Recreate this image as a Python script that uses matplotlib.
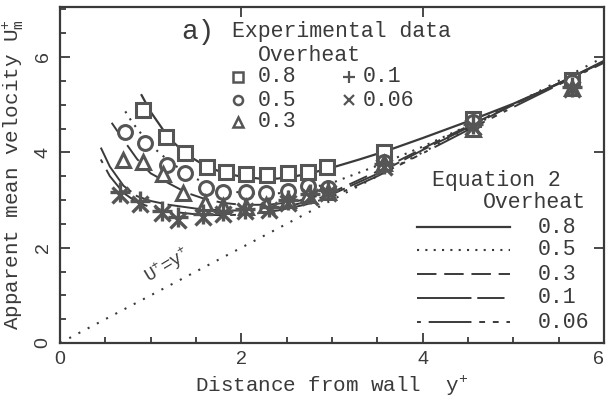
import matplotlib.pyplot as plt
import numpy as np

sq_x = [0.92, 1.17, 1.38, 1.62, 1.83, 2.05, 2.28, 2.52, 2.73, 2.95, 3.57, 4.56, 5.65]
sq_y = [4.88, 4.32, 3.98, 3.69, 3.58, 3.54, 3.52, 3.56, 3.58, 3.69, 4.00, 4.70, 5.52]

ci_x = [0.72, 0.94, 1.18, 1.38, 1.61, 1.80, 2.05, 2.27, 2.52, 2.73, 2.96, 3.57, 4.56, 5.65]
ci_y = [4.42, 4.19, 3.73, 3.56, 3.25, 3.17, 3.17, 3.14, 3.19, 3.30, 3.25, 3.80, 4.63, 5.47]

tr_x = [0.70, 0.91, 1.14, 1.36, 1.60, 1.80, 2.05, 2.27, 2.52, 2.73, 2.96, 3.57, 4.56, 5.65]
tr_y = [3.84, 3.79, 3.54, 3.14, 2.93, 2.87, 2.85, 2.89, 3.00, 3.10, 3.17, 3.77, 4.50, 5.35]

pl_x = [0.66, 0.88, 1.13, 1.30, 1.58, 1.80, 2.04, 2.30, 2.51, 2.76, 2.96, 3.57, 4.56, 5.65]
pl_y = [3.17, 2.97, 2.78, 2.65, 2.71, 2.76, 2.82, 2.86, 2.99, 3.13, 3.20, 3.76, 4.60, 5.38]

cr_x = [0.66, 0.88, 1.13, 1.30, 1.58, 1.80, 2.04, 2.30, 2.51, 2.76, 2.96, 3.57, 4.56, 5.65]
cr_y = [3.11, 2.91, 2.72, 2.59, 2.65, 2.70, 2.76, 2.80, 2.93, 3.07, 3.14, 3.70, 4.54, 5.32]

# equation 2 curves (traced)
c08_x = [0.90, 1.00, 1.20, 1.40, 1.60, 1.80, 2.00, 2.20, 2.40, 2.60, 2.80, 3.00, 3.30, 3.60, 4.00, 4.50, 5.00, 5.50, 6.00]
c08_y = [5.20, 4.85, 4.30, 3.95, 3.72, 3.57, 3.49, 3.45, 3.45, 3.50, 3.58, 3.68, 3.85, 4.03, 4.30, 4.65, 5.02, 5.44, 5.92]

c05_x = [0.72, 0.80, 0.90, 1.00, 1.20, 1.40, 1.60, 1.80, 2.00, 2.30, 2.60, 3.00, 3.50, 4.00, 4.50, 5.00, 5.50, 6.00]
c05_y = [4.86, 4.62, 4.38, 4.15, 3.82, 3.55, 3.35, 3.22, 3.15, 3.12, 3.18, 3.36, 3.72, 4.12, 4.56, 5.01, 5.45, 5.90]

c03_x = [0.57, 0.70, 0.85, 1.00, 1.20, 1.40, 1.60, 1.80, 2.00, 2.30, 2.60, 3.00, 3.50, 4.00, 4.50, 5.00, 5.50, 6.00]
c03_y = [4.62, 4.26, 3.86, 3.56, 3.35, 3.15, 3.02, 2.94, 2.90, 2.90, 2.97, 3.16, 3.60, 4.08, 4.55, 5.00, 5.45, 5.90]

c01_x = [0.45, 0.55, 0.70, 0.85, 1.00, 1.20, 1.50, 1.80, 2.10, 2.40, 2.70, 3.00, 3.50, 4.00, 4.50, 5.00, 5.50, 6.00]
c01_y = [4.10, 3.70, 3.30, 3.08, 2.98, 2.90, 2.82, 2.78, 2.78, 2.83, 2.95, 3.12, 3.55, 4.05, 4.52, 5.00, 5.45, 5.90]

c006_x = [0.45, 0.55, 0.70, 0.85, 1.00, 1.20, 1.50, 1.80, 2.10, 2.40, 2.70, 3.00, 3.50, 4.00, 4.50, 5.00, 5.50, 6.00]
c006_y = [3.85, 3.50, 3.15, 2.95, 2.85, 2.76, 2.70, 2.68, 2.70, 2.78, 2.90, 3.07, 3.50, 3.98, 4.47, 4.95, 5.42, 5.88]

ref_x = [0, 6]
ref_y = [0, 6]

ink = '#3a3a3a'
mark = '#555555'
mono = ['Liberation Mono', 'DejaVu Sans Mono']
plt.rcParams['font.family'] = mono
plt.rcParams['mathtext.fontset'] = 'custom'
plt.rcParams['mathtext.rm'] = 'Liberation Mono'
plt.rcParams['mathtext.it'] = 'Liberation Mono'

fig = plt.figure(figsize=(6.06, 4.05), dpi=100)
ax = fig.add_axes([60 / 606, 1 - 343 / 405, 544 / 606, 336 / 405])

styles = {
    '0.8': dict(ls='-', lw=1.6),
    '0.5': dict(ls=(0, (1, 3)), lw=1.5),
    '0.3': dict(ls=(0, (10, 4)), lw=1.4),
    '0.1': dict(ls=(0, (28, 3, 14, 3)), lw=1.4),
    '0.06': dict(ls=(0, (2, 4, 22, 4, 3, 4, 3, 4)), lw=1.4),
}

ax.plot(ref_x, ref_y, color=ink, ls=(0, (1, 4)), lw=1.5)
ax.plot(c08_x, c08_y, color=ink, **styles['0.8'])
ax.plot(c05_x, c05_y, color=ink, **styles['0.5'])
ax.plot(c03_x, c03_y, color=ink, **styles['0.3'])
ax.plot(c01_x, c01_y, color=ink, **styles['0.1'])
ax.plot(c006_x, c006_y, color=ink, **styles['0.06'])

ax.plot(sq_x, sq_y, 's', ms=10, mfc='white', mec=mark, mew=2.2, zorder=4)
ax.plot(ci_x, ci_y, 'o', ms=10, mfc='white', mec=mark, mew=2.2, zorder=4)
ax.plot(tr_x, tr_y, '^', ms=10, mfc='white', mec=mark, mew=2.2, zorder=4)
ax.plot(pl_x, pl_y, '+', ms=15, mec=mark, mew=2.4, zorder=5)
ax.plot(cr_x, cr_y, 'x', ms=12, mec=mark, mew=2.4, zorder=5)

ax.text(1.19, 1.62, 'U$^{+}$=y$^{+}$', rotation=31, ha='center', va='center',
        fontsize=13, color=ink, rotation_mode='anchor')

ax.set_xlim(0, 6)
ax.set_ylim(0, 7.05)
ax.set_xticks([0, 2, 4, 6])
ax.set_yticks([0, 2, 4, 6])
ax.set_xticks(np.arange(0, 6.01, 0.5), minor=True)
ax.set_yticks(np.arange(0, 7.01, 0.5), minor=True)
ax.tick_params(which='both', direction='in', color=ink, width=1.3)
ax.tick_params(which='major', length=7, top=True, right=True)
ax.tick_params(which='minor', length=4)
for lab in ax.get_xticklabels() + ax.get_yticklabels():
    lab.set_family('Liberation Sans')
    lab.set_fontsize(14)
    lab.set_color(ink)
for lab in ax.get_yticklabels():
    lab.set_rotation(90)
    lab.set_va('center')
ax.get_xticklabels()[-1].set_ha('right')
ax.tick_params(axis='x', pad=6)
ax.tick_params(axis='y', pad=6)
for s in ax.spines.values():
    s.set_linewidth(1.6)
    s.set_color(ink)

ax.set_xlabel('Distance from wall  y$^{+}$', fontsize=15, color=ink, labelpad=4)
ax.set_ylabel('Apparent mean velocity U$_{m}^{+}$', fontsize=15, color=ink, labelpad=6)

# experimental data key
tkw = dict(transform=ax.transAxes, color=ink, va='center', fontsize=15.5)
ax.text(0.222, 0.925, 'a)', fontsize=20, transform=ax.transAxes, color=ink, va='center')
ax.text(0.316, 0.926, 'Experimental data', **tkw)
ax.text(0.364, 0.857, 'Overheat', **tkw)
key_rows = [('s', '0.8', 0.792), ('o', '0.5', 0.723), ('^', '0.3', 0.658)]
for m, lab, fy in key_rows:
    ax.plot([0.328], [fy], m, ms=6.5, mfc='white', mec=mark, mew=1.8, transform=ax.transAxes)
    ax.text(0.364, fy, lab, **tkw)
ax.plot([0.531], [0.792], '+', ms=9, mec=mark, mew=1.6, transform=ax.transAxes)
ax.text(0.557, 0.792, '0.1', **tkw)
ax.plot([0.531], [0.723], 'x', ms=7, mec=mark, mew=1.6, transform=ax.transAxes)
ax.text(0.557, 0.723, '0.06', **tkw)

# equation 2 key
ax.text(0.684, 0.485, 'Equation 2', **tkw)
ax.text(0.778, 0.417, 'Overheat', **tkw)
eq_rows = [('0.8', 0.345), ('0.5', 0.277), ('0.3', 0.205), ('0.1', 0.134), ('0.06', 0.0625)]
for lab, fy in eq_rows:
    ax.plot([0.656, 0.827], [fy, fy], color=ink, transform=ax.transAxes, **styles[lab])
    ax.text(0.879, fy, lab, **tkw)

fig.savefig('out.png', dpi=100)
